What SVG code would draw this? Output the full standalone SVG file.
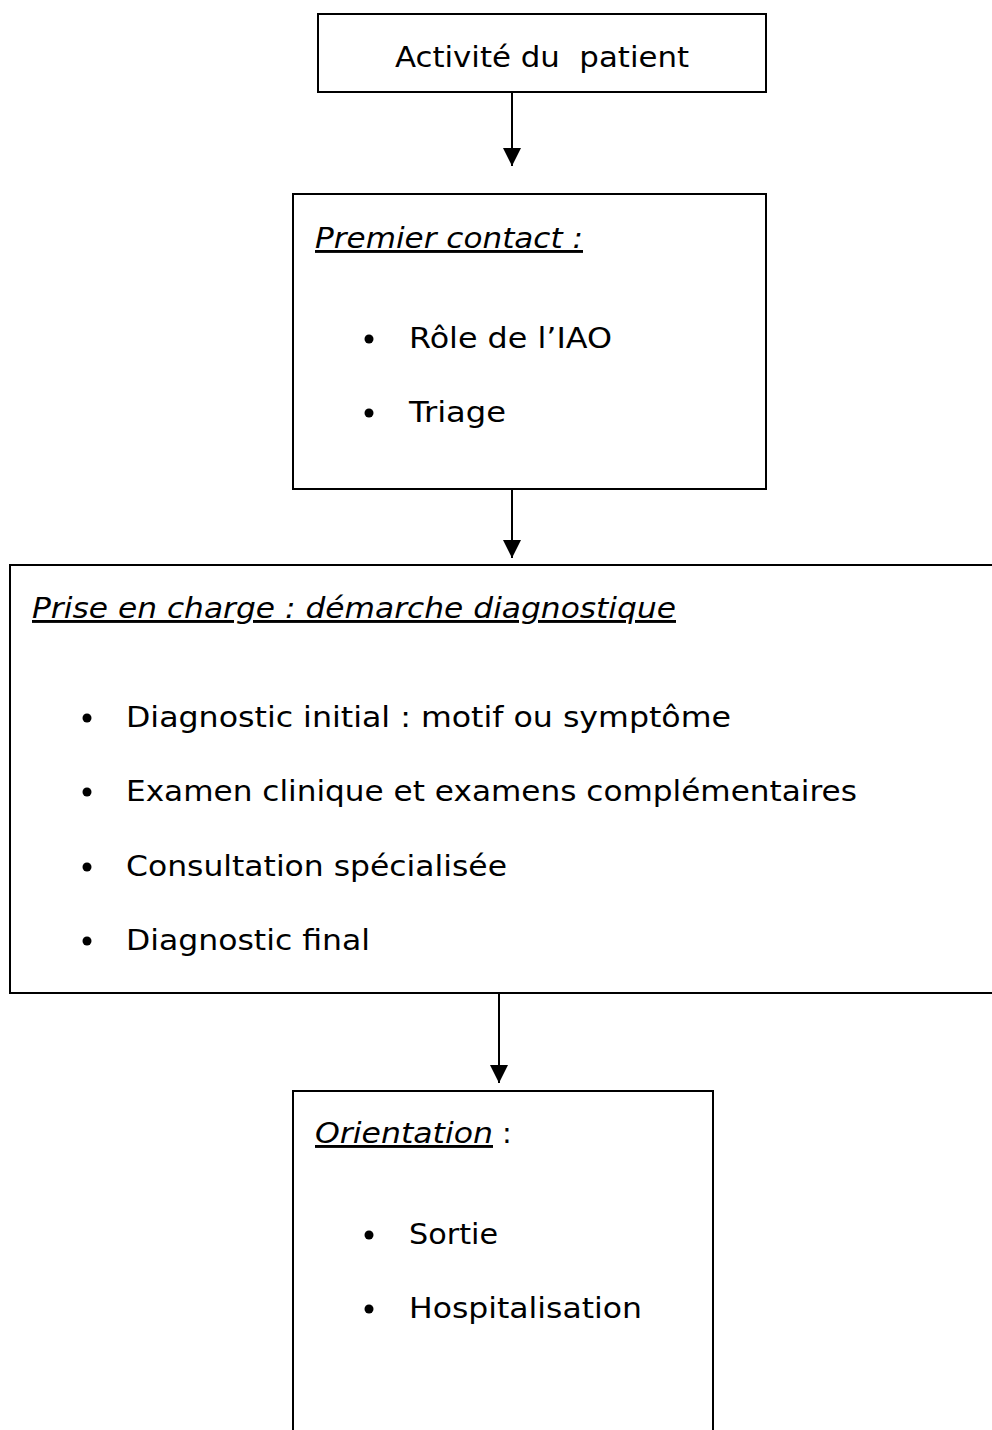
<svg xmlns="http://www.w3.org/2000/svg" width="992" height="1430" viewBox="0 0 992 1430">
<style>
.box{fill:#fff;stroke:#000;stroke-width:2}
.t{font-family:"DejaVu Sans","Verdana",sans-serif;font-size:29px;fill:#000}
.h{font-family:"DejaVu Sans","Verdana",sans-serif;font-size:29px;font-style:italic;fill:#000}
.u{text-decoration:underline}
.b{fill:#000}
.c{stroke:#000;stroke-width:2;fill:none}
</style>
<defs>
<marker id="ah" markerUnits="userSpaceOnUse" markerWidth="18" markerHeight="18" viewBox="0 0 16 16" refX="16" refY="8" orient="auto">
<path d="M0,0 L16,8 L0,16 Z" fill="#000"/>
</marker>
</defs>
<rect width="992" height="1430" fill="#fff"/>
<g id="connectors">
<line class="c" x1="512" y1="92" x2="512" y2="166" marker-end="url(#ah)"/>
<line class="c" x1="512" y1="490" x2="512" y2="558" marker-end="url(#ah)"/>
<line class="c" x1="499" y1="993" x2="499" y2="1083" marker-end="url(#ah)"/>
</g>
<g id="node-activite">
<rect class="box" x="318" y="14" width="448" height="78"/>
<text class="t" x="395" y="67" textLength="294" lengthAdjust="spacingAndGlyphs" xml:space="preserve">Activité du  patient</text>
</g>
<g id="node-premier-contact">
<rect class="box" x="293" y="194" width="473" height="295"/>
<text class="h u" x="315" y="248" textLength="268" lengthAdjust="spacingAndGlyphs">Premier contact :</text>
<circle class="b" cx="369" cy="339" r="4.5"/>
<text class="t" x="409" y="348" textLength="203" lengthAdjust="spacingAndGlyphs">Rôle de l’IAO</text>
<circle class="b" cx="369" cy="413" r="4.5"/>
<text class="t" x="409" y="422" textLength="97" lengthAdjust="spacingAndGlyphs">Triage</text>
</g>
<g id="node-prise-en-charge">
<rect class="box" x="10" y="565" width="1000" height="428"/>
<text class="h u" x="32" y="618" textLength="644" lengthAdjust="spacingAndGlyphs">Prise en charge : démarche diagnostique</text>
<circle class="b" cx="87" cy="718" r="4.5"/>
<text class="t" x="126" y="727" textLength="605" lengthAdjust="spacingAndGlyphs">Diagnostic initial : motif ou symptôme</text>
<circle class="b" cx="87" cy="792" r="4.5"/>
<text class="t" x="126" y="801" textLength="731" lengthAdjust="spacingAndGlyphs">Examen clinique et examens complémentaires</text>
<circle class="b" cx="87" cy="867" r="4.5"/>
<text class="t" x="126" y="876" textLength="381" lengthAdjust="spacingAndGlyphs">Consultation spécialisée</text>
<circle class="b" cx="87" cy="941" r="4.5"/>
<text class="t" x="126" y="950" textLength="244" lengthAdjust="spacingAndGlyphs">Diagnostic final</text>
</g>
<g id="node-orientation">
<rect class="box" x="293" y="1091" width="420" height="400"/>
<text class="h u" x="315" y="1143" textLength="178" lengthAdjust="spacingAndGlyphs">Orientation</text>
<text class="t" x="502" y="1143">:</text>
<circle class="b" cx="369" cy="1235" r="4.5"/>
<text class="t" x="409" y="1244" textLength="89" lengthAdjust="spacingAndGlyphs">Sortie</text>
<circle class="b" cx="369" cy="1309" r="4.5"/>
<text class="t" x="409" y="1318" textLength="233" lengthAdjust="spacingAndGlyphs">Hospitalisation</text>
</g>
</svg>
